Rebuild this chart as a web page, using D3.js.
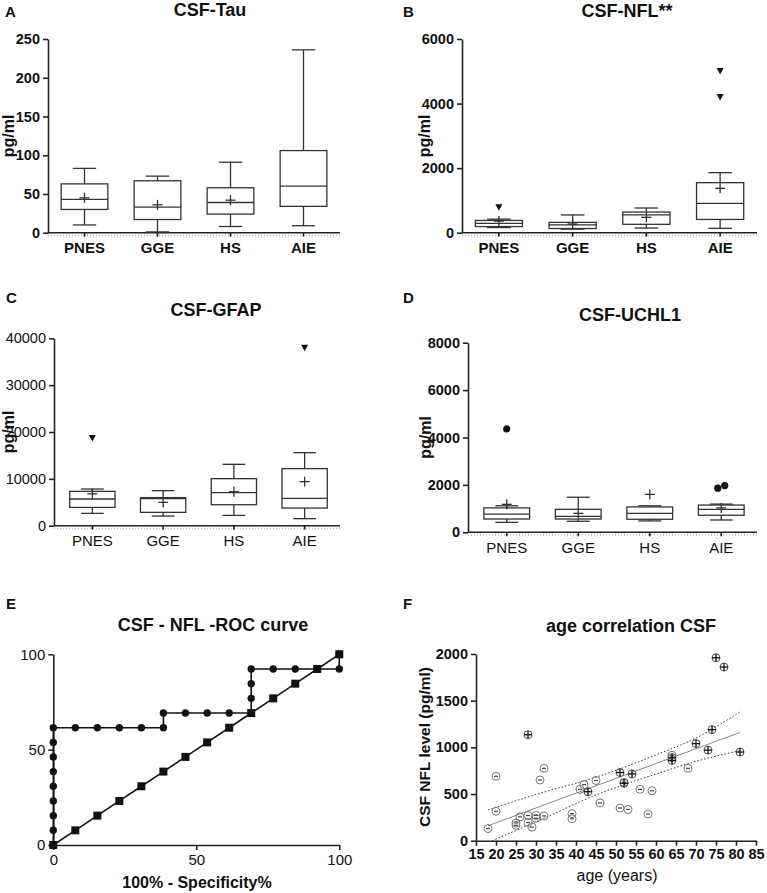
<!DOCTYPE html>
<html>
<head>
<meta charset="UTF-8">
<title>CSF biomarkers</title>
<script src="https://d3js.org/d3.v7.min.js"></script>
<style>
  body { margin: 0; background: #fff; }
  svg { display: block; }
</style>
</head>
<body>
<script>
// ---- data ----
var cats = ["PNES", "GGE", "HS", "AIE"];

// box stats per category: [low whisker, Q1, median, Q3, high whisker]
var tauBox = [[10, 30, 43, 63, 83], [1, 17, 33, 67, 73], [8, 24, 39, 58, 91], [9, 34, 60, 106, 236]];
var tauMean = [45, 36, 42, null];
var tauOut = [];

var nflBox = [[160, 190, 290, 380, 420], [110, 130, 240, 320, 550], [145, 260, 550, 640, 765], [135, 410, 910, 1550, 1860]];
var nflMean = [360, 270, 475, 1375];
var nflOut = [[0, 785], [3, 5010], [3, 4200]];

var gfapBox = [[2630, 3900, 5700, 7330, 7830], [2060, 2850, 5800, 6000, 7480], [2200, 4480, 7050, 10040, 13100], [1500, 3770, 5840, 12180, 15590]];
var gfapMean = [6800, 4980, 7260, 9400];
var gfapOut = [[0, 18700], [3, 38000]];

var uchBox = [[420, 560, 770, 1030, 1120], [465, 560, 675, 970, 1480], [480, 550, 800, 1070, 1120], [520, 720, 970, 1150, 1190]];
var uchMean = [1180, 800, 1600, 1030];
var uchOut = [[0, 4360], [3, 1860], [3, 1970]];

// ROC curve (percent)
var rocFpr = [0, 0, 0, 0, 0, 0, 0, 0, 0, 7.7, 15.4, 23.1, 30.8, 38.5, 38.5, 46.2, 53.8, 61.5, 69.2, 69.2, 69.2, 69.2, 76.9, 84.6, 92.3, 100, 100];
var rocTpr = [0, 7.7, 15.4, 23.1, 30.8, 38.5, 46.2, 53.8, 61.5, 61.5, 61.5, 61.5, 61.5, 61.5, 69.2, 69.2, 69.2, 69.2, 69.2, 76.9, 84.6, 92.3, 92.3, 92.3, 92.3, 92.3, 100];
var refLine = [0, 7.7, 15.4, 23.1, 30.8, 38.5, 46.2, 53.8, 61.5, 69.2, 76.9, 84.6, 92.3, 100];

// age correlation
var ageMinus = [18, 20, 20, 25, 25, 26, 28, 28, 29, 30, 30, 31, 32, 32, 39, 39, 41, 42, 45, 46, 51, 52, 53, 56, 58, 59, 64, 68];
var nflMinus = [130, 690, 315, 190, 165, 255, 270, 195, 145, 270, 240, 650, 775, 265, 290, 235, 550, 600, 645, 405, 350, 625, 335, 550, 285, 535, 915, 775];
var agePlus = [28, 43, 51, 52, 54, 64, 64, 70, 73, 74, 75, 77, 81];
var nflPlus = [1135, 525, 730, 615, 715, 890, 860, 1040, 970, 1190, 1960, 1860, 950];
var fitAge = [18, 81];
var fitNfl = [160, 1160];
var bandAge = [18, 31, 45, 61, 70, 81];
var bandUpper = [330, 508, 680, 936, 1100, 1380];
var lowAge = [19, 31, 45, 61, 70, 81];
var bandLower = [0, 222, 490, 728, 850, 965];

// ---- drawing ----
var FF = "'Liberation Sans', Arial, Helvetica, sans-serif";
var INK = "#222";

var svg = d3.select("body").append("svg").attr("width", 767).attr("height", 893);

function txt(x, y, s, size, weight, anchor) {
    return svg.append("text").attr("x", x).attr("y", y).text(s)
        .attr("font-family", FF).attr("font-size", size)
        .attr("font-weight", weight || "bold")
        .attr("text-anchor", anchor || "start").attr("fill", "#111");
}

function styleAxis(g, size, weight) {
    g.select(".domain").attr("stroke", INK).attr("stroke-width", 1.6);
    g.selectAll(".tick line").attr("stroke", INK).attr("stroke-width", 1.6);
    g.selectAll(".tick text").attr("font-family", FF).attr("font-size", size)
        .attr("font-weight", weight).attr("fill", "#111");
}

function ylabel(x, y, s, size) {
    svg.append("text").attr("transform", "translate(" + x + "," + y + ") rotate(-90)")
        .attr("text-anchor", "middle").attr("font-family", FF).attr("font-size", size)
        .attr("font-weight", "bold").attr("fill", "#111").text(s);
}

function boxPanel(o) {
    txt(o.lx, o.ly, o.letter, 15, "bold");
    txt(o.tx, o.ty, o.title, 18, "bold", "middle");

    var y = d3.scaleLinear().domain([0, o.max]).range([o.y0, o.y1]);
    var x = d3.scaleBand().domain(cats).range([o.xa, o.xb]).paddingInner(0.36).paddingOuter(0.18);
    var bw = x.bandwidth();

    var ga = svg.append("g").attr("transform", "translate(" + o.ax + ",0)")
        .call(d3.axisLeft(y).tickValues(o.ticks).tickSize(5).tickPadding(3).tickSizeOuter(0).tickFormat(d3.format("d")));
    styleAxis(ga, o.tickS, o.tickW);

    // x axis with faint dotted rule under it
    svg.append("line").attr("x1", o.ax).attr("x2", o.xb).attr("y1", o.y0 + 2.5).attr("y2", o.y0 + 2.5)
        .attr("stroke", "#999").attr("stroke-width", 1).attr("stroke-dasharray", "1,2");
    var gx = svg.append("g").attr("transform", "translate(0," + o.y0 + ")")
        .call(d3.axisBottom(x).tickSize(4).tickPadding(6).tickSizeOuter(0));
    gx.select(".domain").remove();
    svg.append("line").attr("x1", o.ax).attr("x2", o.xb).attr("y1", o.y0).attr("y2", o.y0)
        .attr("stroke", INK).attr("stroke-width", 1.6);
    styleAxis(gx, 15, o.catW);

    ylabel(o.ylx, (o.y0 + o.y1) / 2, "pg/ml", 16);

    var g = svg.append("g").attr("stroke", "#333").attr("stroke-width", 1.3).attr("fill", "none");
    o.stats.forEach(function (s, i) {
        var c = x(cats[i]) + bw / 2;
        g.append("line").attr("x1", c).attr("x2", c).attr("y1", y(s[0])).attr("y2", y(s[1]));
        g.append("line").attr("x1", c).attr("x2", c).attr("y1", y(s[3])).attr("y2", y(s[4]));
        g.append("line").attr("x1", c - bw / 4).attr("x2", c + bw / 4).attr("y1", y(s[0])).attr("y2", y(s[0]));
        g.append("line").attr("x1", c - bw / 4).attr("x2", c + bw / 4).attr("y1", y(s[4])).attr("y2", y(s[4]));
        g.append("rect").attr("x", c - bw / 2).attr("width", bw)
            .attr("y", y(s[3])).attr("height", y(s[1]) - y(s[3])).attr("fill", "#fff");
        g.append("line").attr("x1", c - bw / 2).attr("x2", c + bw / 2).attr("y1", y(s[2])).attr("y2", y(s[2]));
        var m = o.means[i];
        if (m != null) {
            g.append("line").attr("x1", c - 5).attr("x2", c + 5).attr("y1", y(m)).attr("y2", y(m));
            g.append("line").attr("x1", c).attr("x2", c).attr("y1", y(m) - 5).attr("y2", y(m) + 5);
        }
    });

    o.outs.forEach(function (d, k) {
        var c = x(cats[d[0]]) + bw / 2, py = y(d[1]);
        // spread points that would overlap
        o.outs.forEach(function (e, j) {
            if (j !== k && e[0] === d[0] && Math.abs(y(e[1]) - py) < 8) c += (j < k ? 3.5 : -3.5);
        });
        if (o.mark === "tri") {
            svg.append("path").attr("d", "M" + (c - 3.5) + "," + (py - 3) + "L" + (c + 3.5) + "," + (py - 3) + "L" + c + "," + (py + 3.5) + "Z")
                .attr("fill", "#111");
        } else {
            svg.append("circle").attr("cx", c).attr("cy", py).attr("r", 3.6).attr("fill", "#111");
        }
    });
}

boxPanel({letter: "A", lx: 5, ly: 17, title: "CSF-Tau", tx: 210, ty: 16,
    ax: 48, xa: 48, xb: 340, y0: 232.7, y1: 39, max: 250, ticks: [0, 50, 100, 150, 200, 250],
    stats: tauBox, means: tauMean, outs: tauOut, ylx: 14, tickS: 14.5, tickW: "bold", catW: "bold", mark: "tri"});

boxPanel({letter: "B", lx: 403, ly: 17, title: "CSF-NFL**", tx: 627, ty: 17,
    ax: 462, xa: 462, xb: 757, y0: 232.7, y1: 39, max: 6000, ticks: [0, 2000, 4000, 6000],
    stats: nflBox, means: nflMean, outs: nflOut, ylx: 430, tickS: 14.5, tickW: "bold", catW: "bold", mark: "tri"});

boxPanel({letter: "C", lx: 6, ly: 303, title: "CSF-GFAP", tx: 216, ty: 316,
    ax: 54, xa: 57, xb: 340, y0: 525.7, y1: 338.3, max: 40000, ticks: [0, 10000, 20000, 30000, 40000],
    stats: gfapBox, means: gfapMean, outs: gfapOut, ylx: 14, tickS: 14.5, tickW: "normal", catW: "normal", mark: "tri"});

boxPanel({letter: "D", lx: 403, ly: 303, title: "CSF-UCHL1", tx: 630, ty: 321,
    ax: 468, xa: 471, xb: 757, y0: 532.3, y1: 342.7, max: 8000, ticks: [0, 2000, 4000, 6000, 8000],
    stats: uchBox, means: uchMean, outs: uchOut, ylx: 431, tickS: 14.5, tickW: "bold", catW: "normal", mark: "dot"});

// ---- E: ROC ----
(function () {
    txt(6, 609, "E", 15, "bold");
    txt(213, 631, "CSF - NFL -ROC curve", 18, "bold", "middle");
    var x = d3.scaleLinear().domain([0, 100]).range([53.3, 339.3]);
    var y = d3.scaleLinear().domain([0, 100]).range([845, 654.3]);
    var gx = svg.append("g").attr("transform", "translate(0,845)")
        .call(d3.axisBottom(x).tickValues([0, 50, 100]).tickSize(5).tickPadding(4).tickSizeOuter(0));
    styleAxis(gx, 15, "normal");
    var gy = svg.append("g").attr("transform", "translate(53.3,0)")
        .call(d3.axisLeft(y).tickValues([0, 50, 100]).tickSize(5).tickPadding(3).tickSizeOuter(0));
    styleAxis(gy, 15, "normal");
    txt(197, 888, "100% - Specificity%", 16, "bold", "middle");

    var ref = refLine.map(function (v) { return [v, v]; });
    var roc = rocFpr.map(function (v, i) { return [v, rocTpr[i]]; });
    var line = d3.line().x(function (d) { return x(d[0]); }).y(function (d) { return y(d[1]); });
    svg.append("path").attr("d", line(ref)).attr("fill", "none").attr("stroke", "#111").attr("stroke-width", 1.6);
    svg.append("path").attr("d", line(roc)).attr("fill", "none").attr("stroke", "#111").attr("stroke-width", 1.6);
    svg.selectAll(".refpt").data(ref).enter().append("rect").attr("class", "refpt")
        .attr("x", function (d) { return x(d[0]) - 4; }).attr("y", function (d) { return y(d[1]) - 4; })
        .attr("width", 8).attr("height", 8).attr("fill", "#111");
    svg.selectAll(".rocpt").data(roc).enter().append("circle").attr("class", "rocpt")
        .attr("cx", function (d) { return x(d[0]); }).attr("cy", function (d) { return y(d[1]); })
        .attr("r", 3.7).attr("fill", "#111");
})();

// ---- F: age correlation ----
(function () {
    txt(403, 609, "F", 15, "bold");
    txt(631, 632, "age correlation CSF", 18, "bold", "middle");
    var x = d3.scaleLinear().domain([15, 85]).range([476, 756]);
    var y = d3.scaleLinear().domain([0, 2000]).range([840.7, 654]);
    var gx = svg.append("g").attr("transform", "translate(0,840.7)")
        .call(d3.axisBottom(x).tickValues(d3.range(15, 86, 5)).tickSize(5).tickPadding(3).tickSizeOuter(0));
    styleAxis(gx, 14.5, "bold");
    var gy = svg.append("g").attr("transform", "translate(476,0)")
        .call(d3.axisLeft(y).tickValues([0, 500, 1000, 1500, 2000]).tickSize(5).tickPadding(3).tickSizeOuter(0)
            .tickFormat(d3.format("d")));
    styleAxis(gy, 14.5, "bold");
    txt(617, 881, "age (years)", 16, "normal", "middle");
    ylabel(430, 747, "CSF NFL level (pg/ml)", 15.5);

    var line = d3.line().x(function (d) { return x(d[0]); }).y(function (d) { return y(d[1]); });
    var up = bandAge.map(function (a, i) { return [a, bandUpper[i]]; });
    var lo = lowAge.map(function (a, i) { return [a, bandLower[i]]; });
    var fit = fitAge.map(function (a, i) { return [a, fitNfl[i]]; });
    var smooth = d3.line().curve(d3.curveMonotoneX)
        .x(function (d) { return x(d[0]); }).y(function (d) { return y(d[1]); });
    svg.append("path").attr("d", smooth(up)).attr("fill", "none")
        .attr("stroke", "#333").attr("stroke-width", 1).attr("stroke-dasharray", "1.5,2");
    svg.append("path").attr("d", smooth(lo)).attr("fill", "none")
        .attr("stroke", "#333").attr("stroke-width", 1).attr("stroke-dasharray", "1.5,2");
    svg.append("path").attr("d", line(fit))
        .attr("fill", "none").attr("stroke", "#888").attr("stroke-width", 1);

    ageMinus.forEach(function (a, i) {
        var cx = x(a), cy = y(nflMinus[i]);
        svg.append("circle").attr("cx", cx).attr("cy", cy).attr("r", 4)
            .attr("fill", "none").attr("stroke", "#777").attr("stroke-width", 1);
        svg.append("line").attr("x1", cx - 2).attr("x2", cx + 2).attr("y1", cy).attr("y2", cy)
            .attr("stroke", "#444").attr("stroke-width", 1.2);
    });
    agePlus.forEach(function (a, i) {
        var cx = x(a), cy = y(nflPlus[i]);
        svg.append("circle").attr("cx", cx).attr("cy", cy).attr("r", 4)
            .attr("fill", "none").attr("stroke", "#555").attr("stroke-width", 1);
        svg.append("line").attr("x1", cx - 4).attr("x2", cx + 4).attr("y1", cy).attr("y2", cy)
            .attr("stroke", "#111").attr("stroke-width", 1.3);
        svg.append("line").attr("x1", cx).attr("x2", cx).attr("y1", cy - 4).attr("y2", cy + 4)
            .attr("stroke", "#111").attr("stroke-width", 1.3);
    });
})();
</script>
</body>
</html>
